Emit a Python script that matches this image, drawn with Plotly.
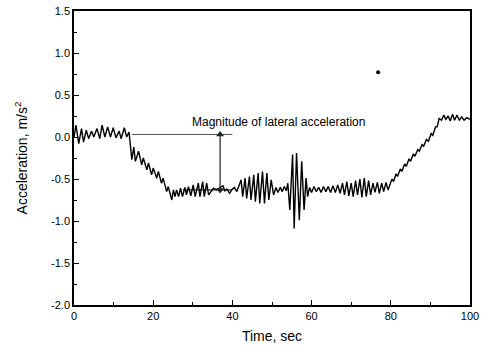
import plotly.graph_objects as go

time_s = [
    0.0, 0.5, 1.2, 1.9, 2.4, 3.1, 3.7, 4.4, 5.0, 5.8, 6.5, 7.1, 7.8, 8.5, 9.2, 9.9,
    10.6, 11.4, 11.9, 12.7, 13.3, 13.9,
    14.6, 15.1, 15.5, 16.3, 17.1, 17.5, 18.4, 18.8, 19.6, 20.0, 20.9, 21.3, 22.1, 22.5,
    23.4, 23.8, 24.7, 25.1, 25.5, 25.9, 26.4, 26.9, 27.4, 28.0, 28.4, 28.9, 29.5,
    30.1, 30.6, 31.4, 31.8, 32.5, 32.9, 33.5, 34.0, 35.2, 36.0,
    37.0, 37.6, 38.1, 38.6, 39.3, 39.8, 40.5, 41.1, 41.6,
    42.2, 42.6, 43.2, 43.6, 44.3, 44.7, 45.4, 45.8, 46.5, 46.9, 47.6, 48.1, 48.7, 49.2,
    49.8, 50.4, 51.0, 51.5, 52.1, 52.6, 53.1, 53.6, 54.0,
    54.5, 55.2, 55.6, 56.2, 56.9, 57.5, 58.1, 58.6, 59.0, 59.5, 60.0, 60.6, 61.2, 61.8,
    62.4, 63.0, 63.6, 64.2, 64.8, 65.4, 66.0, 66.6, 67.2, 67.8, 68.3, 68.9, 69.4, 70.0,
    70.5, 71.1, 71.6, 72.2, 72.7, 73.3, 73.8, 74.4, 74.9, 75.5, 76.0, 76.6, 77.1, 77.7,
    78.2, 78.8, 79.3,
    79.9, 80.3, 80.7, 81.3, 81.7, 82.4, 82.8, 83.5, 83.9, 84.6, 85.0, 85.7, 86.1, 86.8,
    87.2, 87.9, 88.3, 89.0, 89.5, 90.2, 90.6, 91.3, 91.7, 92.2, 92.8, 93.4, 93.9, 94.5,
    95.0, 95.6, 96.1, 96.7, 97.3, 97.9, 98.5, 99.2, 100.0,
]
accel = [
    0.0, 0.14, -0.08, 0.10, -0.06, 0.08, -0.02, 0.07, 0.0, 0.10, -0.02, 0.14, 0.0, 0.12, 0.0, 0.11,
    -0.01, 0.07, -0.02, 0.11, 0.0, 0.06,
    -0.27, -0.12, -0.29, -0.17, -0.33, -0.25, -0.39, -0.31, -0.45, -0.37, -0.49, -0.41, -0.55, -0.49,
    -0.65, -0.59, -0.75, -0.63, -0.71, -0.63, -0.71, -0.61, -0.71, -0.60, -0.69, -0.59, -0.70,
    -0.57, -0.71, -0.55, -0.71, -0.53, -0.71, -0.55, -0.69, -0.61, -0.63,
    -0.60, -0.58, -0.64, -0.62, -0.67, -0.63, -0.60, -0.65, -0.59,
    -0.51, -0.71, -0.49, -0.73, -0.47, -0.75, -0.45, -0.77, -0.43, -0.79, -0.41, -0.79, -0.43, -0.75,
    -0.51, -0.69, -0.60, -0.66, -0.60, -0.65, -0.59, -0.64, -0.55,
    -0.87, -0.21, -1.09, -0.19, -0.99, -0.29, -0.87, -0.49, -0.71, -0.60, -0.66, -0.59, -0.65, -0.60,
    -0.66, -0.59, -0.65, -0.59, -0.66, -0.58, -0.66, -0.57, -0.67, -0.55, -0.69, -0.53, -0.70, -0.55,
    -0.71, -0.52, -0.69, -0.50, -0.72, -0.49, -0.71, -0.52, -0.69, -0.55, -0.66, -0.54, -0.67, -0.55,
    -0.65, -0.54, -0.63,
    -0.56, -0.50, -0.53, -0.44, -0.47, -0.38, -0.41, -0.32, -0.35, -0.26, -0.29, -0.20, -0.23, -0.15,
    -0.17, -0.09, -0.11, -0.03, -0.05, 0.04, 0.02, 0.12, 0.12, 0.22, 0.20, 0.26, 0.21, 0.25,
    0.19, 0.27, 0.20, 0.26, 0.20, 0.24, 0.20, 0.23, 0.21,
]

# Annotation reference values
ref_level = 0.03          # initial (zero) level line
ref_span = [14.6, 40.0]
steady_level = -0.63      # steady-state level line
steady_span = [27.5, 40.0]
arrow_time = 36.9
label_pos = [29.3, 0.18]
stray_dot = [76.8, 0.77]

x_ticks = [0, 20, 40, 60, 80, 100]
y_ticks = [-2.0, -1.5, -1.0, -0.5, 0.0, 0.5, 1.0, 1.5]

FONT = "Liberation Sans, Arial"

fig = go.Figure()
fig.add_trace(go.Scatter(x=time_s, y=accel, mode="lines",
                         line=dict(color="black", width=1.4), showlegend=False))
fig.add_trace(go.Scatter(x=[stray_dot[0]], y=[stray_dot[1]], mode="markers",
                         marker=dict(color="black", size=4), showlegend=False))

# reference level lines
fig.add_trace(go.Scatter(x=ref_span, y=[ref_level, ref_level], mode="lines",
                         line=dict(color="#555555", width=1), showlegend=False))
fig.add_trace(go.Scatter(x=steady_span, y=[steady_level, steady_level], mode="lines",
                         line=dict(color="black", width=1), showlegend=False))
# double-headed arrow
fig.add_trace(go.Scatter(x=[arrow_time, arrow_time], y=[ref_level, steady_level],
                         mode="lines+markers",
                         line=dict(color="#222222", width=1.2),
                         marker=dict(symbol=["triangle-up", "triangle-down"], size=7,
                                     color="#222222", line=dict(width=0)),
                         cliponaxis=False, showlegend=False))

fig.add_annotation(x=label_pos[0], y=label_pos[1], xref="x", yref="y",
                   text="Magnitude of lateral acceleration", showarrow=False,
                   xanchor="left", yanchor="middle",
                   font=dict(family=FONT, size=12, color="black"))

axis_common = dict(showline=True, linecolor="black", linewidth=1.5, mirror=True,
                   ticks="inside", ticklen=5, tickwidth=1, tickcolor="black",
                   showgrid=False, zeroline=False, automargin=False,
                   tickfont=dict(family=FONT, size=11, color="black"))

fig.update_xaxes(range=[0, 100], tickvals=x_ticks, ticktext=[str(v) for v in x_ticks],
                 minor=dict(ticks="inside", ticklen=3, dtick=10, tickcolor="black"),
                 title=dict(text="Time, sec", standoff=10,
                            font=dict(family=FONT, size=14, color="black")),
                 **axis_common)
fig.update_yaxes(range=[-2.0, 1.5], tickvals=y_ticks, ticktext=[f"{v:.1f}" for v in y_ticks],
                 minor=dict(ticks="inside", ticklen=3, dtick=0.25, tickcolor="black"),
                 title=dict(text="Acceleration, m/s<sup>2</sup>", standoff=20,
                            font=dict(family=FONT, size=14, color="black")),
                 **axis_common)

fig.update_layout(width=481, height=349, margin=dict(l=74, r=11, t=11, b=44),
                  paper_bgcolor="white", plot_bgcolor="white")

fig.write_html("out.html")
